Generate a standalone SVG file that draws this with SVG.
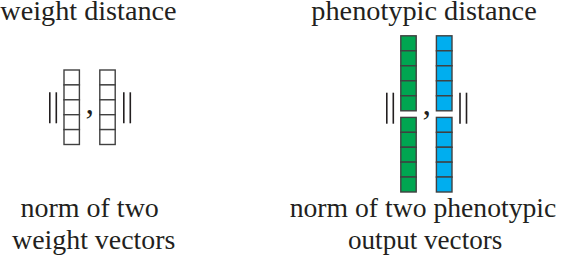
<svg xmlns="http://www.w3.org/2000/svg" width="566" height="258" viewBox="0 0 566 258">
<defs>
<rect id="cw" width="15.4" height="14.9" fill="#fff" stroke="#404040" stroke-width="1.4"/>
<rect id="cg" width="15.4" height="15" fill="#00a651" stroke="#404040" stroke-width="1.4"/>
<rect id="cb" width="15.6" height="15" fill="#00aeef" stroke="#404040" stroke-width="1.4"/>
<line id="bar" x1="0" y1="0" x2="0" y2="31" stroke="#231f20" stroke-width="1.6"/>
</defs>
<rect width="566" height="258" fill="#fff"/>
<g id="weight-distance-title">
<text font-family="Liberation Serif" font-size="27" fill="#231f20" transform="translate(0.3,19.7) scale(1.046,1)">weight distance</text>
</g>
<g id="phenotypic-distance-title">
<text font-family="Liberation Serif" font-size="27" fill="#231f20" transform="translate(311.3,19.7) scale(1.048,1)">phenotypic distance</text>
</g>
<g id="weight-norm">
<use href="#bar" x="49.8" y="92.3"/>
<use href="#bar" x="56.3" y="92.3"/>
<use href="#cw" x="64" y="70"/>
<use href="#cw" x="64" y="84.9"/>
<use href="#cw" x="64" y="99.8"/>
<use href="#cw" x="64" y="114.7"/>
<use href="#cw" x="64" y="129.6"/>
<text font-family="Liberation Serif" font-size="34" fill="#231f20" x="85.5" y="114">,</text>
<use href="#cw" x="99.8" y="70"/>
<use href="#cw" x="99.8" y="84.9"/>
<use href="#cw" x="99.8" y="99.8"/>
<use href="#cw" x="99.8" y="114.7"/>
<use href="#cw" x="99.8" y="129.6"/>
<use href="#bar" x="123.8" y="92.3"/>
<use href="#bar" x="130.3" y="92.3"/>
</g>
<g id="phenotypic-norm">
<use href="#bar" x="386.8" y="92.7"/>
<use href="#bar" x="393.3" y="92.7"/>
<use href="#cg" x="400.8" y="35.8"/>
<use href="#cg" x="400.8" y="50.8"/>
<use href="#cg" x="400.8" y="65.8"/>
<use href="#cg" x="400.8" y="80.8"/>
<use href="#cg" x="400.8" y="95.8"/>
<use href="#cg" x="400.8" y="117.4"/>
<use href="#cg" x="400.8" y="132.3"/>
<use href="#cg" x="400.8" y="147.2"/>
<use href="#cg" x="400.8" y="162.1"/>
<use href="#cg" x="400.8" y="177"/>
<text font-family="Liberation Serif" font-size="34" fill="#231f20" x="422.5" y="114.5">,</text>
<use href="#cb" x="436.4" y="35.8"/>
<use href="#cb" x="436.4" y="50.8"/>
<use href="#cb" x="436.4" y="65.8"/>
<use href="#cb" x="436.4" y="80.8"/>
<use href="#cb" x="436.4" y="95.8"/>
<use href="#cb" x="436.4" y="117.4"/>
<use href="#cb" x="436.4" y="132.3"/>
<use href="#cb" x="436.4" y="147.2"/>
<use href="#cb" x="436.4" y="162.1"/>
<use href="#cb" x="436.4" y="177"/>
<use href="#bar" x="460" y="92.7"/>
<use href="#bar" x="466.5" y="92.7"/>
</g>
<g id="weight-caption">
<text font-family="Liberation Serif" font-size="27" fill="#231f20" transform="translate(20.4,216.5) scale(1.038,1)">norm of two</text>
<text font-family="Liberation Serif" font-size="27" fill="#231f20" transform="translate(12,249) scale(1.033,1)">weight vectors</text>
</g>
<g id="phenotypic-caption">
<text font-family="Liberation Serif" font-size="27" fill="#231f20" transform="translate(289.7,216.5) scale(1.025,1)">norm of two phenotypic</text>
<text font-family="Liberation Serif" font-size="27" fill="#231f20" transform="translate(348,249) scale(1.004,1)">output vectors</text>
</g>
</svg>
